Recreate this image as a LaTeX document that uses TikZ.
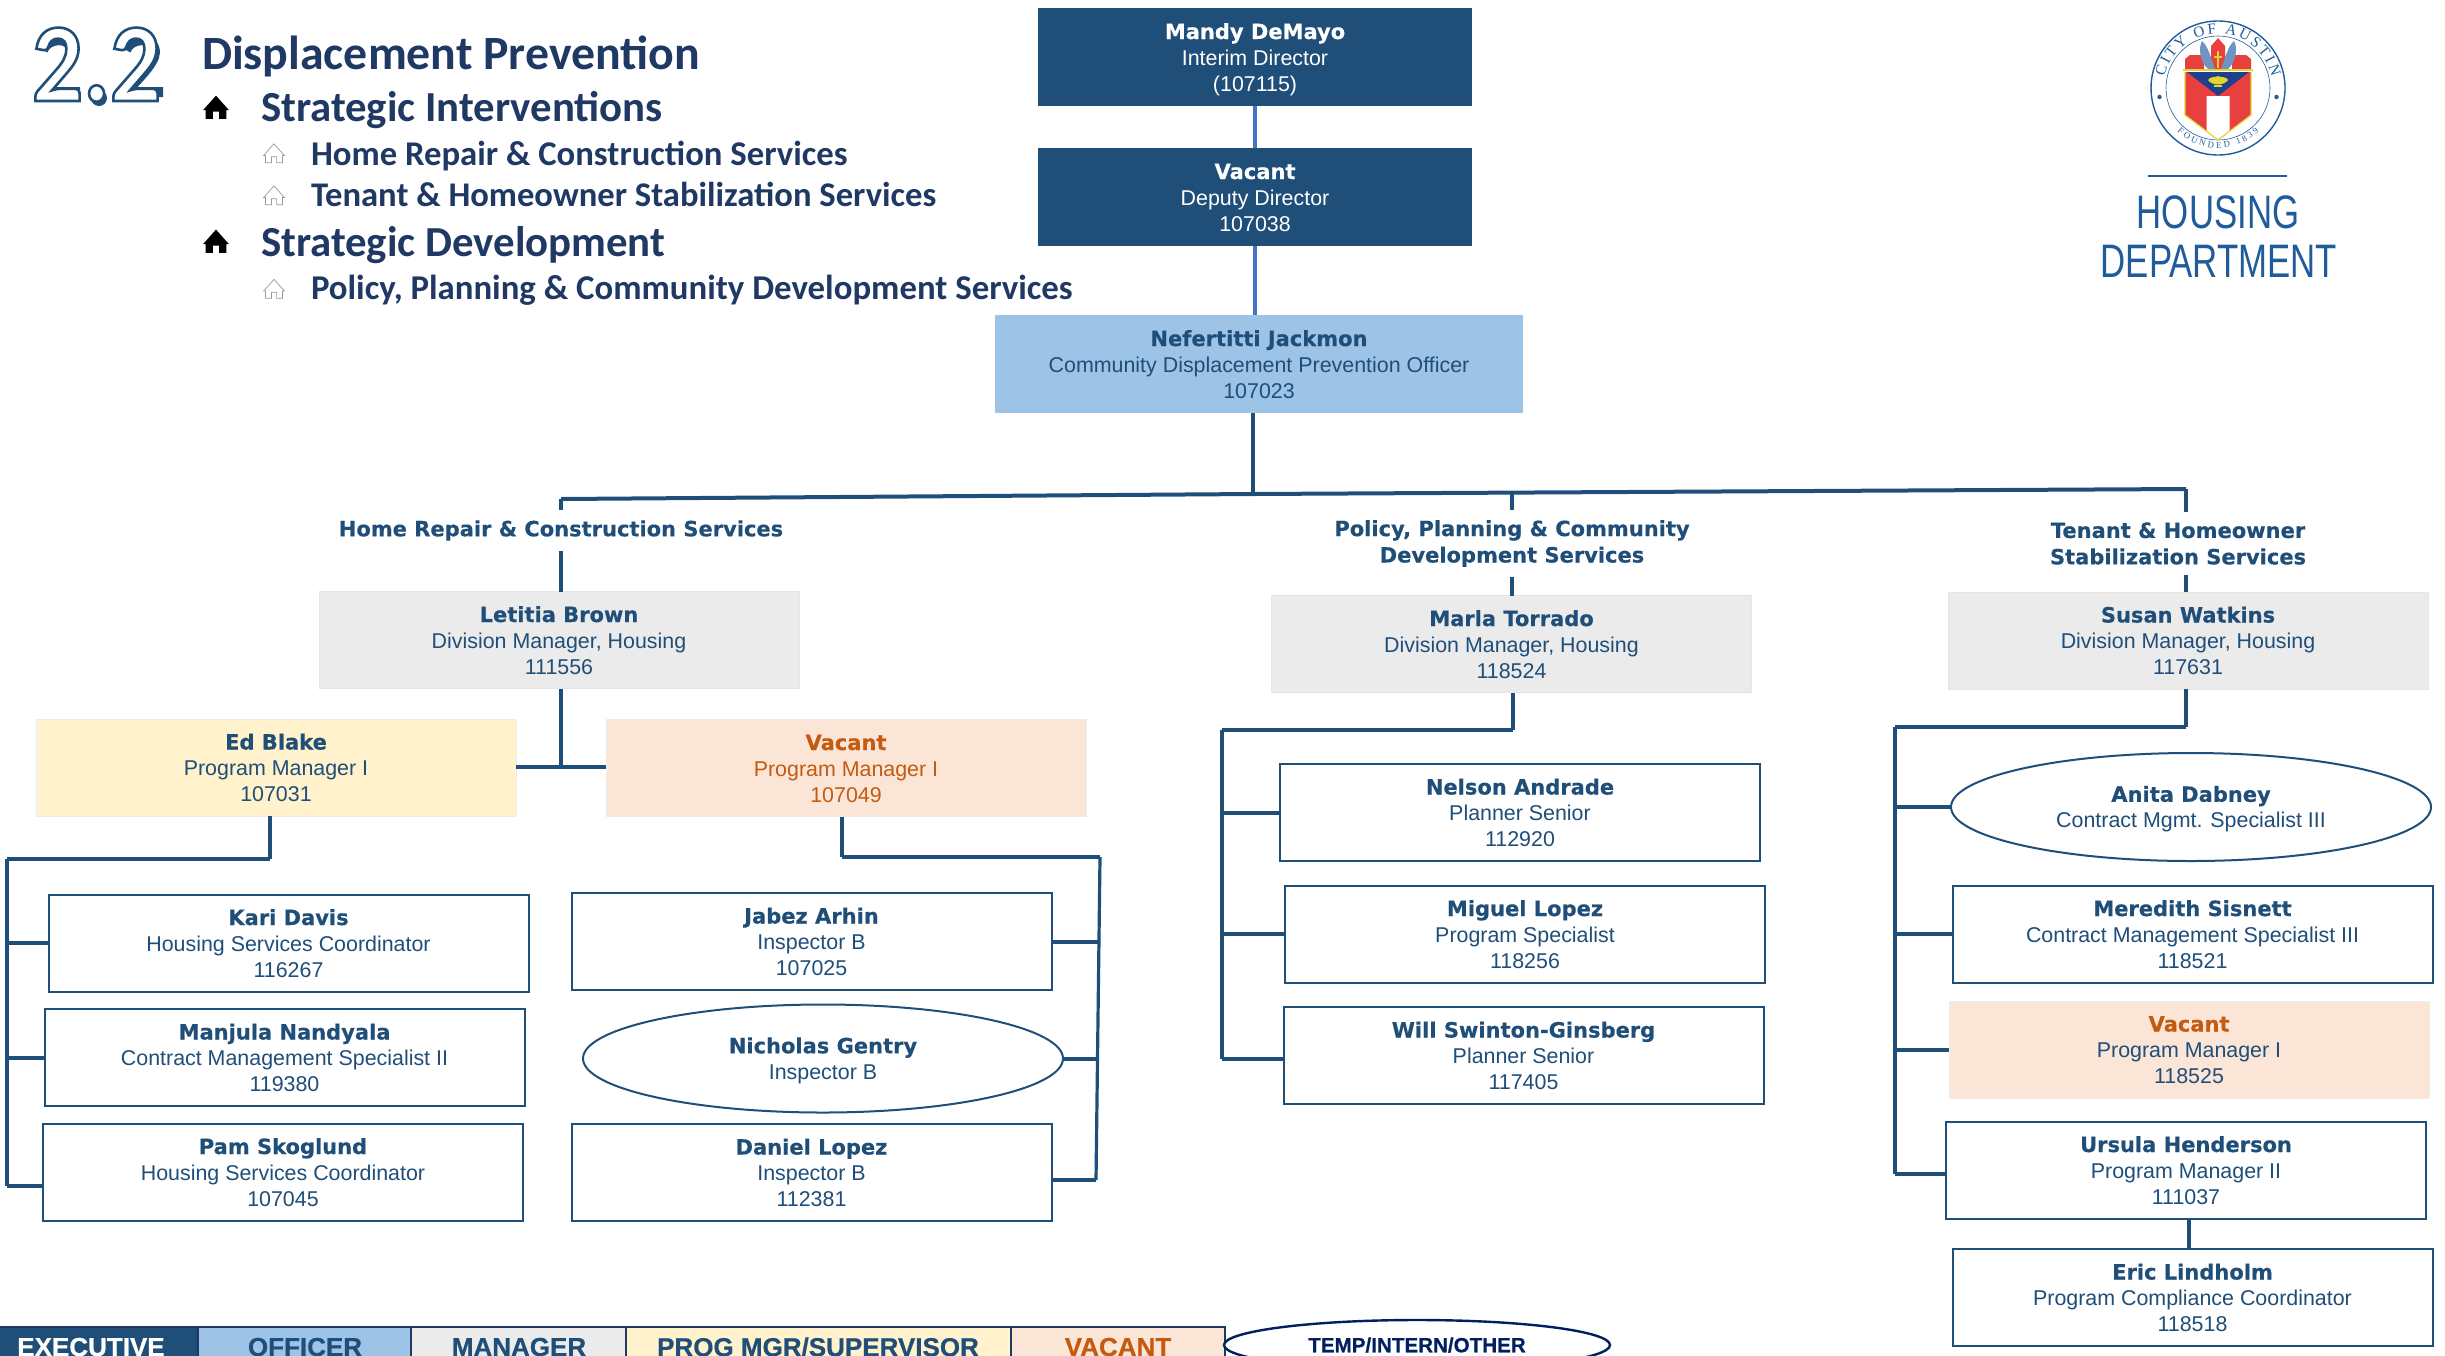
\documentclass[tikz,border=0pt]{standalone}
\usepackage{fontspec}
\usetikzlibrary{shapes.geometric,decorations.text,calc}
\setmainfont{Liberation Sans}
\newfontface\vfont[FakeBold=0.35]{DejaVu Sans Bold}
\newfontfamily\headfont{Carlito}
\newfontfamily\numfont[FakeStretch=0.9]{Carlito}
\newfontfamily\serfont{Liberation Serif}
\newfontfamily\narrowfont[FakeStretch=0.74]{Liberation Sans}
\newfontface\legfont[FakeBold=0.6]{Liberation Sans Bold}
\definecolor{navy}{HTML}{1F4E79}
\definecolor{headblue}{HTML}{1F3864}
\definecolor{officer}{HTML}{9DC3E6}
\definecolor{manager}{HTML}{EBEBEB}
\definecolor{progmgr}{HTML}{FFF2CC}
\definecolor{vacfill}{HTML}{FBE5D6}
\definecolor{vactext}{HTML}{C55A11}
\definecolor{linkblue}{HTML}{4472C4}
\definecolor{logoblue}{HTML}{1F5C99}
\definecolor{tempnavy}{HTML}{002060}
\definecolor{sealred}{HTML}{E8403F}
\definecolor{sealblue}{HTML}{1F3F8F}
\definecolor{sealyel}{HTML}{E2D62C}
\definecolor{sealwing}{HTML}{6F93C2}
\newcommand{\namef}{\vfont\fontsize{10.5}{13}\selectfont}
\newcommand{\ot}[3]{{\namef\rule{0pt}{10.5pt}#1}\\#2\\\rule[-2.5pt]{0pt}{2.5pt}#3}
\newcommand{\ots}[2]{{\namef\rule{0pt}{10pt}#1}\\#2}
\newcommand{\outlined}[1]{\special{pdf:code q 2 Tr 1.3 w 0.122 0.306 0.475 RG 1 1 1 rg}#1\special{pdf:code Q}}
\tikzset{
  base/.style={align=center,inner sep=0pt,outer sep=0pt,text=navy,font=\fontsize{10.7}{13}\selectfont},
  wide/.style={base,minimum width=240pt,minimum height=48.5pt},
  execbox/.style={base,fill=navy,text=white,minimum width=216.75pt,minimum height=49pt},
  officerbox/.style={base,fill=officer,minimum width=264pt,minimum height=49pt},
  managerbox/.style={wide,fill=manager,draw=gray!20,line width=.5pt},
  progbox/.style={wide,fill=progmgr,draw=gray!15,line width=.5pt},
  vacbox/.style={wide,fill=vacfill,draw=gray!15,line width=.5pt,text=vactext},
  vacboxb/.style={wide,fill=vacfill,draw=gray!15,line width=.5pt},
  staff/.style={wide,draw=navy,line width=1pt,fill=white},
  oval/.style={base,ellipse,draw=navy,line width=1pt,fill=white,minimum width=240pt,minimum height=54pt},
  sect/.style={align=center,inner sep=0pt,outer sep=5pt,text=navy,font=\vfont\fontsize{10.5}{13.2}\selectfont},
  conn/.style={draw=navy,line width=1.6pt},
  hconn/.style={draw=navy,line width=2pt},
  toplink/.style={draw=linkblue,line width=2pt},
  head/.style={anchor=base west,inner sep=0pt,outer sep=0pt,text=headblue},
  bighouse/.style={fill=black},
  smallhouse/.style={draw=gray!80,fill=white,line width=.35pt},
  legend/.style={draw=headblue,line width=1pt},
  legtext/.style={inner sep=0pt,font=\legfont\fontsize{13}{14}\selectfont,text=navy},
  numshadow/.style={draw=navy,line width=5pt},
  house/.pic={\path[pic actions] (-13,11)--(-13,0)--(-16,0)--(0,-18)--(16,0)--(13,0)--(13,11)--(4,11)--(4,2)--(-4,2)--(-4,11)--cycle;},
}
\begin{document}
\begin{tikzpicture}[x=.5pt,y=-.5pt]
\useasboundingbox (0,0) rectangle (2445,1355);
\clip (0,0) rectangle (2445,1355);
% heading
\foreach \dx in {0,83}{
 \draw[numshadow,shift={(\dx,0)}] (43,50) .. controls (47,38) and (71,35) .. (72,52) .. controls (72,64) and (51,82) .. (44,92) -- (80,92);
}
\fill[navy] (99,98) circle (8);
\node[head] (num) at (32,101) {\numfont\bfseries\fontsize{56}{56}\selectfont\outlined{2.2}};
\node[head,font=\headfont\bfseries\fontsize{23.9}{25}\selectfont] (t0) at (202,69.5) {Displacement Prevention};
\node[head,font=\headfont\bfseries\fontsize{21.4}{23}\selectfont] (t1) at (261,121.5) {Strategic Interventions};
\node[head,font=\headfont\bfseries\fontsize{17.35}{19}\selectfont] (t2) at (311,165.5) {Home Repair \& Construction Services};
\node[head,font=\headfont\bfseries\fontsize{17.3}{19}\selectfont] (t3) at (311,206.5) {Tenant \& Homeowner Stabilization Services};
\node[head,font=\headfont\bfseries\fontsize{21.4}{23}\selectfont] (t4) at (261,256.5) {Strategic Development};
\node[head,font=\headfont\bfseries\fontsize{17.4}{19}\selectfont] (t5) at (311,299.5) {Policy, Planning \& Community Development Services};
\pic[bighouse,scale=.8] at (216,110) {house};
\pic[bighouse,scale=.8] at (216,244) {house};
\pic[smallhouse,scale=.65] at (274,155.5) {house};
\pic[smallhouse,scale=.65] at (274,197.5) {house};
\pic[smallhouse,scale=.65] at (274,291) {house};
% logo
\begin{scope}[shift={(2218,88)},x=.5pt,y=.5pt]
 \draw[logoblue,line width=.7pt] (0,0) circle (67);
 \draw[logoblue,line width=.3pt] (0,0) circle (52);
 \fill[logoblue] (-58.5,-9) circle (2.2) (58.5,-9) circle (2.2);
 \path[decorate,decoration={text along path,text align=fit to path,text color=logoblue,
   text={|\serfont\fontsize{7.6}{8}\selectfont|CITY OF AUSTIN}}] (168:54.5) arc[start angle=168,end angle=12,radius=54.5];
 \path[decorate,decoration={text along path,text align=fit to path,text color=logoblue,
   text={|\serfont\fontsize{4.4}{5}\selectfont|FOUNDED 1839}}] (227:60) arc[start angle=227,end angle=313,radius=60];
 % capitol
 \fill[sealred] (-33,18) -- (-33,29) -- (-28,33) -- (-14,33) -- (-14,18) -- cycle;
 \fill[sealred] (33,18) -- (33,29) -- (28,33) -- (14,33) -- (14,18) -- cycle;
 \fill[sealred] (-7,18) -- (-7,42) -- (0,50) -- (7,42) -- (7,18) -- cycle;
 \fill[sealwing] (-16,47) .. controls (-20,40) and (-18,26) .. (-10,19) -- (-3,19) .. controls (-7,30) and (-10,42) .. (-16,47) -- cycle;
 \fill[sealwing] (16,47) .. controls (20,40) and (18,26) .. (10,19) -- (3,19) .. controls (7,30) and (10,42) .. (16,47) -- cycle;
 \draw[sealyel,line width=.8pt] (0,20) -- (0,37) (-4,31) -- (4,31);
 % shield
 \fill[sealred] (-33,16) -- (33,16) -- (33,-27) -- (0,-52) -- (-33,-27) -- cycle;
 \fill[white] (-11.5,-8) -- (11.5,-8) -- (11.5,-43) -- (0,-52) -- (-11.5,-43) -- cycle;
 \fill[sealblue] (-31,16) -- (31,16) -- (0,-8) -- cycle;
 \draw[sealyel,line width=.6pt] (-33,16) -- (-33,-27) -- (0,-52) -- (33,-27) -- (33,16);
 \draw[sealyel,line width=1.2pt] (-35,18) -- (35,18);
 \fill[sealyel] (-10,8) .. controls (-6,2) and (6,2) .. (10,8) .. controls (8,12) and (3,10) .. (0,12) .. controls (-3,10) and (-8,12) .. (-10,8) -- cycle;
 \fill[sealyel] (-4,1) rectangle (4,3);
\end{scope}
\draw[logoblue,line width=.8pt] (2148,176) -- (2287,176);
\node[inner sep=0pt,text=logoblue,font=\narrowfont\fontsize{23.5}{23.5}\selectfont] (hous) at (2218,212) {HOUSING};
\node[inner sep=0pt,text=logoblue,font=\narrowfont\fontsize{23.5}{23.5}\selectfont] (dept) at (2219,261) {DEPARTMENT};
% executive
\node[execbox] (mandy) at (1255,57) {\ot{Mandy DeMayo}{Interim Director}{(107115)}};
\node[execbox] (deputy) at (1255,197) {\ot{Vacant}{Deputy Director}{107038}};
\node[officerbox] (nef) at (1259,364) {\ot{Nefertitti Jackmon}{Community Displacement Prevention Officer}{107023}};
% section labels
\node[sect] (lab1) at (561,530.5) {Home Repair \& Construction Services};
\node[sect] (lab2) at (1512,543.5) {Policy, Planning \& Community\\Development Services};
\node[sect] (lab3) at (2178,543.5) {Tenant \& Homeowner\\Stabilization Services};
% managers
\node[managerbox] (letitia) at (559,640) {\ot{Letitia Brown}{Division Manager, Housing}{111556}};
\node[managerbox] (marla) at (1511.5,644) {\ot{Marla Torrado}{Division Manager, Housing}{118524}};
\node[managerbox] (susan) at (2188,640.5) {\ot{Susan Watkins}{Division Manager, Housing}{117631}};
% home repair
\node[progbox] (ed) at (276,767.5) {\ot{Ed Blake}{Program Manager I}{107031}};
\node[vacbox] (vac1) at (846,768) {\ot{Vacant}{Program Manager I}{107049}};
\node[staff] (kari) at (288.5,943) {\ot{Kari Davis}{Housing Services Coordinator}{116267}};
\node[staff] (manjula) at (284.5,1057.5) {\ot{Manjula Nandyala}{Contract Management Specialist II}{119380}};
\node[staff] (pam) at (283,1172) {\ot{Pam Skoglund}{Housing Services Coordinator}{107045}};
\node[staff] (jabez) at (811.5,941.5) {\ot{Jabez Arhin}{Inspector B}{107025}};
\node[oval] (nick) at (823,1058.5) {\ots{Nicholas Gentry}{Inspector B}};
\node[staff] (daniel) at (811.5,1172.5) {\ot{Daniel Lopez}{Inspector B}{112381}};
% policy
\node[staff] (nelson) at (1520,812.5) {\ot{Nelson Andrade}{Planner Senior}{112920}};
\node[staff] (miguel) at (1525,934) {\ot{Miguel Lopez}{Program Specialist}{118256}};
\node[staff] (will) at (1523.5,1055.5) {\ot{Will Swinton-Ginsberg}{Planner Senior}{117405}};
% tenant
\node[oval] (anita) at (2191,807) {\ots{Anita Dabney}{Contract Mgmt. Specialist III}};
\node[staff] (meredith) at (2192.5,934) {\ot{Meredith Sisnett}{Contract Management Specialist III}{118521}};
\node[vacboxb] (vac2) at (2189,1049.5) {\ot{\textcolor{vactext}{Vacant}}{Program Manager I}{118525}};
\node[staff] (ursula) at (2186,1170) {\ot{Ursula Henderson}{Program Manager II}{111037}};
\node[staff] (eric) at (2192.5,1297.5) {\ot{Eric Lindholm}{Program Compliance Coordinator}{118518}};
% junctions
\coordinate (xtop) at (1255,0);
\coordinate (tr0) at (1253,494);
\coordinate (tr1) at (561,499);
\coordinate (tr2) at (1512,492);
\coordinate (tr3) at (2186,489);
\coordinate (hub) at (561,767);
\coordinate (edj) at (270,859);
\coordinate (edl) at (7,859);
\coordinate (edb) at (7,1186);
\coordinate (vaj) at (842,857);
\coordinate (var) at (1100,857);
\coordinate (varb) at (1096,1180);
\coordinate (polj) at (1513,730);
\coordinate (poll) at (1222,730);
\coordinate (polb) at (1222,1059);
\coordinate (tenj) at (2186,727);
\coordinate (tenl) at (1895,727);
\coordinate (tenb) at (1895,1174);
\coordinate (erx) at (2189,0);
% connectors
\draw[toplink] (mandy.south -| xtop) -- (deputy.north -| xtop);
\draw[toplink] (deputy.south -| xtop) -- (nef.north -| xtop);
\draw[conn] (nef.south -| tr0) -- (tr0);
\draw[hconn] (tr1) -- (tr0) -- (tr3);
\draw[conn] (tr1) -- (tr1 |- lab1.north);
\draw[conn] (tr2) -- (tr2 |- lab2.north);
\draw[conn] (tr3) -- (tr3 |- lab3.north);
\draw[conn] (tr1 |- lab1.south) -- (tr1 |- letitia.north);
\draw[conn] (tr2 |- lab2.south) -- (tr2 |- marla.north);
\draw[conn] (tr3 |- lab3.south) -- (tr3 |- susan.north);
\draw[conn] (hub |- letitia.south) -- (hub);
\draw[hconn] (ed.east |- hub) -- (vac1.west |- hub);
\draw[conn] (ed.south -| edj) -- (edj);
\draw[hconn] (edj) -- (edl);
\draw[conn] (edl) -- (edb);
\draw[hconn] (edl |- kari.west) -- (kari.west);
\draw[hconn] (edl |- manjula.west) -- (manjula.west);
\draw[hconn] (edb) -- (edb -| pam.west);
\draw[conn] (vac1.south -| vaj) -- (vaj);
\draw[hconn] (vaj) -- (var);
\draw[conn] (var) -- (varb);
\draw[hconn] (jabez.east) -- (jabez.east -| var);
\draw[hconn] (nick.east) -- (nick.east -| varb);
\draw[hconn] (varb) -- (varb -| daniel.east);
\draw[conn] (marla.south -| polj) -- (polj);
\draw[hconn] (polj) -- (poll);
\draw[conn] (poll) -- (polb);
\draw[hconn] (poll |- nelson.west) -- (nelson.west);
\draw[hconn] (poll |- miguel.west) -- (miguel.west);
\draw[hconn] (polb) -- (polb -| will.west);
\draw[conn] (susan.south -| tenj) -- (tenj);
\draw[hconn] (tenj) -- (tenl);
\draw[conn] (tenl) -- (tenb);
\draw[hconn] (tenl |- anita.west) -- (anita.west);
\draw[hconn] (tenl |- meredith.west) -- (meredith.west);
\draw[hconn] (tenl |- vac2.west) -- (vac2.west);
\draw[hconn] (tenb) -- (tenb -| ursula.west);
\draw[conn] (ursula.south -| erx) -- (eric.north -| erx);
% legend
\draw[legend,fill=navy] (-5,1327) rectangle (198,1365);
\draw[legend,fill=officer] (198,1327) rectangle (411,1365);
\draw[legend,fill=manager] (411,1327) rectangle (626,1365);
\draw[legend,fill=progmgr] (626,1327) rectangle (1011,1365);
\draw[legend,fill=vacfill] (1011,1327) rectangle (1225,1365);
\node[legtext,text=white] (le) at (91,1347) {EXECUTIVE};
\node[legtext] (lo) at (305,1347) {OFFICER};
\node[legtext] (lm) at (519,1347) {MANAGER};
\node[legtext] (lp) at (818,1347) {PROG MGR/SUPERVISOR};
\node[legtext,text=vactext] (lv) at (1118,1347) {VACANT};
\node[ellipse,draw=tempnavy,line width=1.2pt,fill=white,inner sep=0pt,minimum width=193pt,minimum height=25pt,font=\legfont\fontsize{10.3}{11}\selectfont,text=tempnavy] (lt) at (1417,1345) {TEMP/INTERN/OTHER};
\end{tikzpicture}
\end{document}
